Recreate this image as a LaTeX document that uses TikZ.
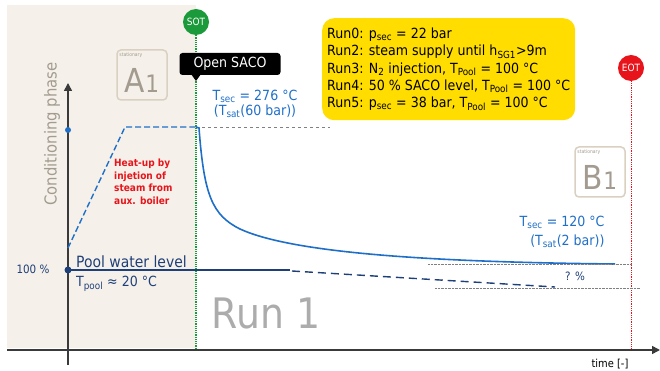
\documentclass[tikz,border=0pt]{standalone}
\usepackage{fontspec}
\setmainfont{DejaVu Sans Condensed}
\usetikzlibrary{arrows.meta}
\definecolor{Sand}{HTML}{F5F1EA}
\definecolor{Curve}{HTML}{1F6FC8}
\definecolor{Pool}{HTML}{1F3F78}
\definecolor{Sot}{HTML}{1A9A3A}
\definecolor{Eot}{HTML}{E8141B}
\definecolor{Note}{HTML}{FFDD00}
\definecolor{Stat}{HTML}{A39B8F}
\definecolor{StatLine}{HTML}{D9D0C2}
\definecolor{Axis}{HTML}{3A3A3A}
\newcommand{\fs}[1]{\fontsize{#1}{1.25\dimexpr#1pt\relax}\selectfont}

\begin{document}
\begin{tikzpicture}[x=1pt,y=-1pt,
  marker/.style={circle,inner sep=0pt,minimum size=26pt,text=white,font=\fs{10}},
  statframe/.style={draw=StatLine,line width=1.5pt,rounded corners=4pt,minimum size=50pt},
  statlabel/.style={text=Stat,font=\fs{5},inner sep=1pt,anchor=north west}]
\useasboundingbox (0,0) rectangle (660,371);
\fill [Sand] (7,5) rectangle (196,348);

\node (a1) at (142,75) [statframe] {};
\node at (a1.north west) [statlabel,xshift=2pt,yshift=-2pt] {stationary};
\node at (142,80) [text=Stat,inner sep=0pt] {\fs{33}A\fs{24}1};
\node (b1) at (600,172) [statframe] {};
\node at (b1.north west) [statlabel,xshift=2pt,yshift=-2pt] {stationary};
\node at (600,177) [text=Stat,inner sep=0pt] {\fs{33}B\fs{24}1};

\node (sot) at (196,22) [marker,fill=Sot] {SOT};
\node (eot) at (631,68) [marker,fill=Eot] {EOT};
\coordinate (sotend) at (196,348);
\coordinate (eotend) at (631,348);
\draw [Sot,densely dotted,line width=1.2pt] (sot) -- (sotend);
\draw [Eot,densely dotted,line width=0.8pt] (eot) -- (eotend);

\node (saco) at (230,64) [fill=black,rounded corners=3pt,text=white,minimum width=101pt,minimum height=22pt,inner sep=0pt,font=\fs{14}] {Open SACO};
\fill (191,74) -- (196,81) -- (201,74) -- cycle;

\draw [-{Triangle[length=8pt,width=8pt]},Axis,line width=1.5pt] (7,350) -- (660,350);
\draw [-{Triangle[length=8pt,width=8pt]},Axis,line width=1.5pt] (68,365) -- (68,83);
\node at (610,364) [font=\fs{11}] {time [-]};
\node at (52,134) [rotate=90,text=Stat,font=\fs{16.5}] {Conditioning phase};

\draw [gray,dashed,line width=0.9pt] (196,127) -- (330,127);
\draw [Curve,line width=1.4pt,dash pattern=on 6pt off 3pt] (68,248) -- (125,127) -- (196,127);
\fill [Curve] (68,130) circle (3pt);
\draw [Curve,line width=1.6pt] (196,127) -- (199,128) .. controls (204,195) and (212,215) .. (240,229) .. controls (290,252) and (420,262) .. (615,264);

\draw [gray,densely dotted] (428,264) -- (632,264);
\draw [gray,densely dotted] (435,288) -- (640,288);
\fill [Pool] (68,270) circle (3.5pt);
\draw [Pool,line width=1.4pt] (68,270) -- (290,270);
\draw [Pool,line width=1.4pt,dash pattern=on 8pt off 5pt] (292,271) -- (555,287);

\node (hot) at (255,104) [text=Curve,align=center,font=\fs{14}] {T\textsubscript{sec} = 276 °C\\[-2pt](T\textsubscript{sat}(60 bar))};
\node (cold) at (608,232) [anchor=east,text=Curve,align=right,font=\fs{14}] {T\textsubscript{sec} = 120 °C\\[1pt](T\textsubscript{sat}(2 bar))};
\node (heat) at (113,158) [anchor=north west,text=Eot,align=left,font=\fs{10}\bfseries,inner sep=1pt] {Heat-up by\\injetion of\\steam from\\aux. boiler};
\node (pool) at (75,262) [anchor=west,text=Pool,font=\fs{15.5},inner sep=1pt] {Pool water level};
\node (tpool) at (75,284) [anchor=west,text=Pool,font=\fs{14},inner sep=1pt] {T\textsubscript{pool} ≈ 20 °C};
\node at (33,269) [text=Pool,font=\fs{11.5}] {100 \%};
\node at (575,276) [text=Pool,font=\fs{11.5}] {? \%};
\node (run) at (266,313) [text=gray!65,font=\fs{42}] {Run 1};

\node (runs) at (322,18) [anchor=north west,fill=Note,rounded corners=12pt,minimum width=253pt,minimum height=102pt,align=left,inner xsep=5pt,font=\fontsize{14}{17.3}\selectfont] {Run0: p\textsubscript{sec} = 22 bar\\
Run2: steam supply until h\textsubscript{SG1}>9m\\
Run3: N\textsubscript{2} injection, T\textsubscript{Pool} = 100 °C\\
Run4: 50 \% SACO level, T\textsubscript{Pool} = 100 °C\\
Run5: p\textsubscript{sec} = 38 bar, T\textsubscript{Pool} = 100 °C};
\end{tikzpicture}
\end{document}
